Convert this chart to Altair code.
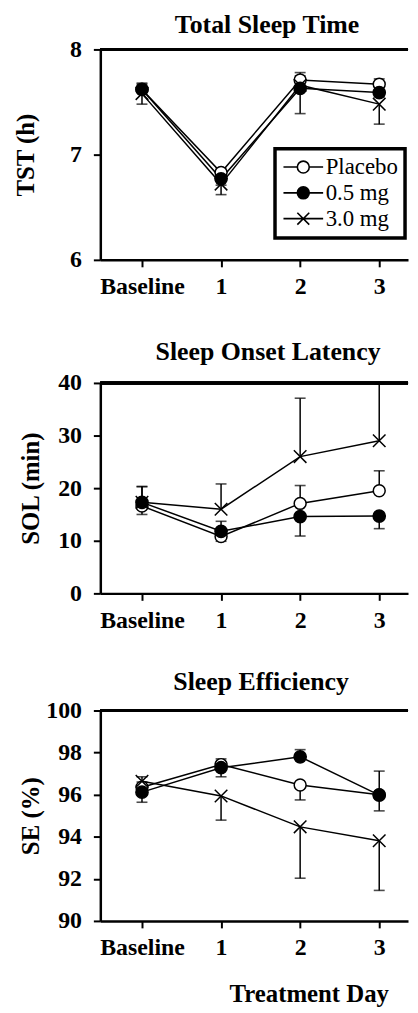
import json
import altair as alt
import pandas as pd

# ---------------- data ----------------
day_labels = ["Baseline", "1", "2", "3"]
day_index = [0, 1, 2, 3]
series_names = ["Placebo", "0.5 mg", "3.0 mg"]

# Total Sleep Time (h): means and the end of the (one-sided) error bar
tst_placebo = [7.62, 6.83, 7.71, 7.67]
tst_placebo_err = [7.68, 6.87, 7.78, 7.72]
tst_low = [7.62, 6.77, 7.63, 7.59]
tst_low_err = [7.67, 6.71, 7.75, 7.55]
tst_high = [7.58, 6.72, 7.66, 7.48]
tst_high_err = [7.48, 6.62, 7.39, 7.29]

# Sleep Onset Latency (min)
sol_placebo = [16.6, 10.8, 17.1, 19.5]
sol_placebo_err = [15.0, 9.9, 20.5, 23.3]
sol_low = [17.3, 11.8, 14.6, 14.7]
sol_low_err = [20.3, 13.7, 10.9, 12.3]
sol_high = [17.3, 16.0, 26.0, 29.0]
sol_high_err = [20.3, 20.8, 37.1, 39.8]

# Sleep Efficiency (%)
se_placebo = [96.35, 97.43, 96.46, 96.0]
se_placebo_err = [96.6, 97.70, 95.75, 95.23]
se_low = [96.12, 97.28, 97.80, 95.98]
se_low_err = [95.64, 96.85, 98.14, 97.12]
se_high = [96.64, 95.94, 94.47, 93.81]
se_high_err = [96.85, 94.79, 92.03, 91.45]

tst_ticks = [6, 7, 8]
sol_ticks = [0, 10, 20, 30, 40]
se_ticks = [90, 92, 94, 96, 98, 100]

panel_titles = ["Total Sleep Time", "Sleep Onset Latency", "Sleep Efficiency"]
y_titles = ["TST (h)", "SOL (min)", "SE (%)"]
x_title = "Treatment Day"


def make_df(series_means, series_errs):
    rows = []
    for name, means, errs in zip(series_names, series_means, series_errs):
        for d, m, e in zip(day_index, means, errs):
            rows.append({"series": name, "day": d, "mean": m, "err": e})
    return pd.DataFrame(rows)


tst_df = make_df([tst_placebo, tst_low, tst_high], [tst_placebo_err, tst_low_err, tst_high_err])
sol_df = make_df([sol_placebo, sol_low, sol_high], [sol_placebo_err, sol_low_err, sol_high_err])
se_df = make_df([se_placebo, se_low, se_high], [se_placebo_err, se_low_err, se_high_err])

# ---------------- styling ----------------
FONT = "Liberation Serif"
W = 310
X_PATH = "M-1,-1L1,1M-1,1L1,-1"
point_shapes = ["circle", "circle", X_PATH]
point_fills = ["white", "black", "black"]
point_sizes = [144, 160, 120]
point_strokes = [1.5, 1.5, 2.6]
CIRCLE = "M1,0A1,1,0,1,1,-1,0A1,1,0,1,1,1,0Z"
SEG = "M-3.33,0L-1,0M1,0L3.33,0"
legend_paths = [CIRCLE + SEG, CIRCLE + SEG, X_PATH + "M-3.33,0L3.33,0"]
blacks = ["black", "black", "black"]

label_expr = json.dumps(day_labels) + "[datum.value]"
x_domain = [-0.527, 3.364]


def panel(df, H, title, title_x, title_y, ytitle, ytitle_x, ydomain, yticks, xtitle=None, legend=False):
    x_axis = alt.Axis(values=day_index, tickCount=len(day_index), labelExpr=label_expr, title=xtitle,
                      labelFlush=False, labelOverlap=False, titleFontSize=25,
                      titleX=210, titleY=61, titleAlign="center", titleBaseline="top")
    x_scale = alt.Scale(domain=x_domain, nice=False, zero=False)
    x = alt.X("day:Q", scale=x_scale, axis=x_axis)
    y_axis = alt.Axis(values=yticks, tickCount=len(yticks), labelExpr="'' + datum.value", title=ytitle,
                      labelOverlap=False, labelFlush=False,
                      titleX=ytitle_x, titleY=H / 2, titleAlign="center", titleBaseline="middle")
    y_scale = alt.Scale(domain=ydomain, nice=False, zero=False)
    y_mean = alt.Y("mean:Q", scale=y_scale, axis=y_axis)
    y_err = alt.Y("err:Q", scale=y_scale, axis=y_axis)
    base = alt.Chart(df)
    line = base.mark_line(color="black", strokeWidth=1.5).encode(x=x, y=y_mean, detail="series:N")
    err = base.mark_rule(color="black", strokeWidth=1.5).encode(x=x, y=y_mean, y2="err:Q")
    cap = base.mark_tick(color="black", orient="horizontal", thickness=1.6, size=11).encode(x=x, y=y_err)
    pts = base.mark_point(filled=True, stroke="black", opacity=1).encode(
        x=x, y=y_mean,
        shape=alt.Shape("series:N", scale=alt.Scale(domain=series_names, range=point_shapes), legend=None),
        fill=alt.Fill("series:N", scale=alt.Scale(domain=series_names, range=point_fills), legend=None),
        size=alt.Size("series:N", scale=alt.Scale(domain=series_names, range=point_sizes), legend=None),
        strokeWidth=alt.StrokeWidth("series:N", scale=alt.Scale(domain=series_names, range=point_strokes), legend=None),
    )
    frame = alt.Chart(df).mark_rule(color="black", strokeWidth=2.5).encode(
        y=alt.Y(datum=ydomain[1], scale=y_scale, axis=y_axis))
    head = alt.Chart(df).transform_filter("datum.day == 0 && datum.series == 'Placebo'").mark_text(
        font=FONT, fontSize=26, fontWeight="bold", color="black", align="center", baseline="alphabetic"
    ).encode(x=alt.value(title_x), y=alt.value(title_y), text=alt.value(title))
    layers = [line, err, cap, pts, frame, head]
    if legend:
        leg = alt.Legend(
            orient="none", legendX=176, legendY=100, title=None,
            symbolSize=144, symbolStrokeColor="black", symbolStrokeWidth=1.6,
            symbolOffset=10, labelOffset=11, labelFont=FONT, labelFontSize=23,
            labelFontWeight="normal", labelColor="black", rowPadding=2, padding=7,
            strokeColor="black", fillColor="white",
        )
        leg_layer = alt.Chart(df).transform_filter("false").mark_point(
            filled=True, stroke="black", opacity=1).encode(
            shape=alt.Shape("series:N", scale=alt.Scale(domain=series_names, range=legend_paths), legend=leg),
            fill=alt.Fill("series:N", scale=alt.Scale(domain=series_names, range=point_fills), legend=leg),
            stroke=alt.Stroke("series:N", scale=alt.Scale(domain=series_names, range=blacks), legend=leg),
        )
        layers.append(leg_layer)
    ch = alt.layer(*layers).properties(width=W, height=H)
    if legend:
        ch = ch.resolve_scale(shape="independent", fill="independent", stroke="independent")
    return ch


p1 = panel(tst_df, 212, panel_titles[0], 168, -17, y_titles[0], -75, [6, 8], tst_ticks, legend=True)
p2 = panel(sol_df, 212, panel_titles[1], 169, -23, y_titles[1], -70, [0, 40], sol_ticks)
p3 = panel(se_df, 212, panel_titles[2], 162, -21, y_titles[2], -70, [90, 100], se_ticks, xtitle=x_title)

chart = alt.vconcat(alt.vconcat(p1, p2, spacing=41), p3, spacing=37).properties(
    padding={"left": 5, "top": 0, "right": 0, "bottom": 0}
).configure_axis(
    labelFont=FONT, labelFontSize=24, labelFontWeight="bold", labelColor="black",
    titleFont=FONT, titleFontSize=25, titleFontWeight="bold", titleColor="black",
    domainColor="black", domainWidth=2.5, tickColor="black", tickWidth=2, tickSize=7, grid=False,
).configure_axisX(labelPadding=8).configure_axisY(labelPadding=12).configure_view(
    strokeWidth=0
).configure_legend(strokeWidth=3.5)

chart.save("out.html", embed_options={"renderer": "svg", "actions": False})
